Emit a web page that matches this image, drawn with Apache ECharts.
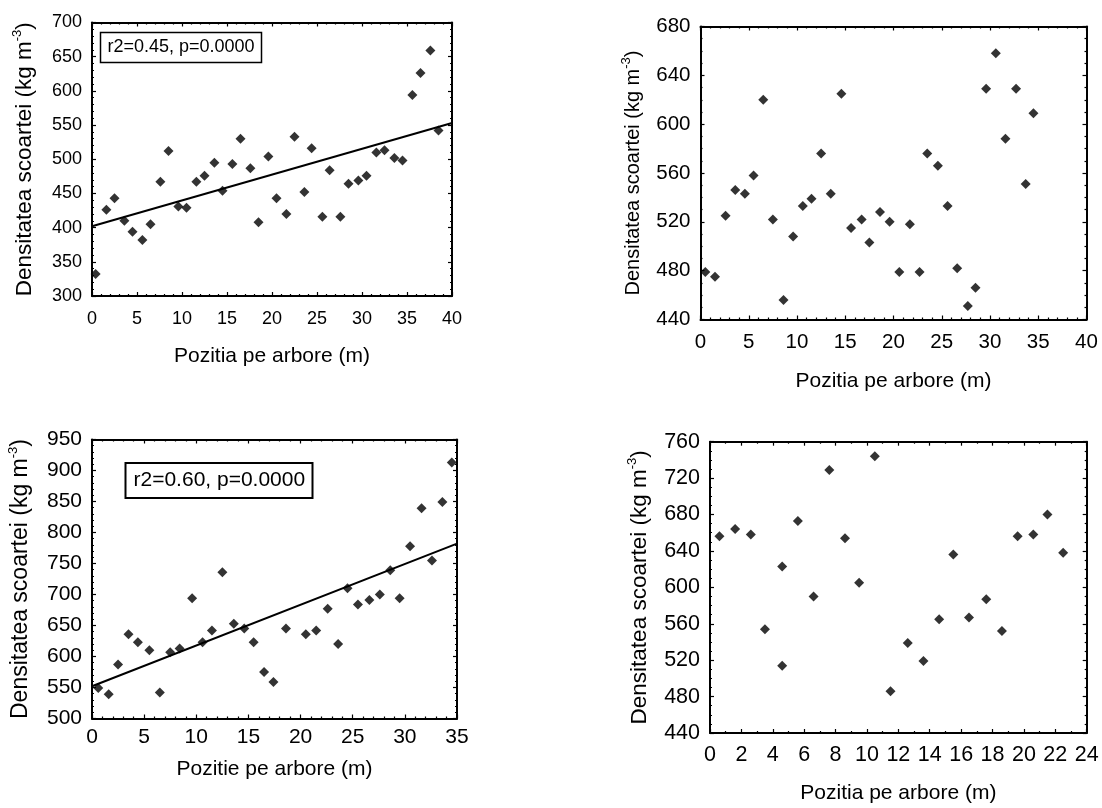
<!DOCTYPE html>
<html>
<head>
<meta charset="utf-8">
<script src="https://cdn.jsdelivr.net/npm/echarts@6/dist/echarts.min.js"></script>
<style>
html,body{margin:0;padding:0;background:#fff;}
#main{width:1102px;height:808px;}
</style>
</head>
<body>
<div id="main"></div>
<script>
// ---- Data ----
const p1X = [0.4,1.6,2.5,3.6,4.5,5.6,6.5,7.6,8.5,9.6,10.5,11.6,12.5,13.6,14.5,15.6,16.5,17.6,18.5,19.6,20.5,21.6,22.5,23.6,24.4,25.6,26.4,27.6,28.5,29.6,30.5,31.6,32.5,33.6,34.5,35.6,36.5,37.6,38.5];
const p1Y = [332,426,443,410,394,382,405,467,512,431,429,467,476,495,454,493,530,487,408,504,443,420,533,452,516,416,484,416,464,469,476,510,513,502,498,594,626,659,542];
const p1FitX = [0, 40];
const p1FitY = [402, 553];
const p1Stat = 'r2=0.45, p=0.0000';

const p2X = [0.5,1.5,2.6,3.6,4.6,5.5,6.5,7.5,8.6,9.6,10.6,11.5,12.5,13.5,14.6,15.6,16.7,17.5,18.6,19.6,20.6,21.7,22.7,23.5,24.6,25.6,26.6,27.7,28.5,29.6,30.6,31.6,32.7,33.7,34.5];
const p2Y = [479,475,525,546,543,558,620,522,456,508,533,539,576,543,625,515,522,503,528,520,479,518,479,576,566,533,482,451,466,629,658,588,629,551,609];

const p3X = [0.6,1.6,2.5,3.5,4.4,5.5,6.5,7.5,8.4,9.6,10.6,11.5,12.5,13.6,14.6,15.5,16.5,17.4,18.6,20.5,21.5,22.6,23.6,24.5,25.5,26.6,27.6,28.6,29.5,30.5,31.6,32.6,33.6,34.5];
const p3Y = [549,539,587,636,623,610,542,607,613,694,623,642,736,653,645,623,575,559,645,636,642,677,620,710,684,691,700,739,694,778,839,755,849,913];
const p3FitX = [0, 35];
const p3FitY = [552, 782];
const p3Stat = 'r2=0.60, p=0.0000';

const p4X = [0.6,1.6,2.6,3.5,4.6,4.6,5.6,6.6,7.6,8.6,9.5,10.5,11.5,12.6,13.6,14.6,15.5,16.5,17.6,18.6,19.6,20.6,21.5,22.5];
const p4Y = [656,664,658,554,623,514,673,590,729,654,605,744,486,539,519,565,636,567,587,552,656,658,680,638];

const yTitle = 'Densitatea scoartei (kg m{sup|-3})';
const xTitleA = 'Pozitia pe arbore (m)';
const xTitleB = 'Pozitie pe arbore (m)';

// ---- Layout / styling ----
const FONT = 'Liberation Sans, Arial, sans-serif';
const zip = (xs, ys) => xs.map((x, i) => [x, ys[i]]);

const panels = [
  {grid:{left:92, top:22.5, width:360, height:273.5},
   x:{min:0,max:40,interval:5,minor:5}, y:{min:300,max:700,interval:50,minor:5},
   tick:18, xTitle:xTitleA, xGap:50, yGap:53, xMargin:14, yMargin:10, titleSize:21, yTitleSize:22.5,
   pts:zip(p1X,p1Y), fit:zip(p1FitX,p1FitY)},
  {grid:{left:700.5, top:26.5, width:386, height:293},
   x:{min:0,max:40,interval:5,minor:5}, y:{min:440,max:680,interval:40,minor:4},
   tick:20.5, xTitle:xTitleA, xGap:51, yGap:53, xMargin:12, yMargin:10, titleSize:21, yTitleSize:20,
   pts:zip(p2X,p2Y), fit:null},
  {grid:{left:92, top:439.5, width:365, height:279},
   x:{min:0,max:35,interval:5,minor:5}, y:{min:500,max:950,interval:50,minor:5},
   tick:21, xTitle:xTitleB, xGap:40, yGap:57, xMargin:8, yMargin:10, titleSize:21, yTitleSize:23,
   pts:zip(p3X,p3Y), fit:zip(p3FitX,p3FitY)},
  {grid:{left:710, top:441.7, width:376.7, height:291.3},
   x:{min:0,max:24,interval:2,minor:2}, y:{min:440,max:760,interval:40,minor:4},
   tick:21.5, xTitle:xTitleA, xGap:50, yGap:56, xMargin:11, yMargin:10, titleSize:21, yTitleSize:22.5,
   pts:zip(p4X,p4Y), fit:null}
];

const lineStyle = {color:'#000', width:2};
function mkAxis(kind, pos, gi, ax, p, primary){
  const a = {
    type:'value', gridIndex:gi, position:pos,
    min:ax.min, max:ax.max, interval:ax.interval,
    axisLine:{show:true, onZero:false, lineStyle:lineStyle},
    axisTick:{show:true, inside:true, length:4, lineStyle:{color:'#000', width:1.2}},
    minorTick:{show:true, splitNumber:ax.minor, length:2, lineStyle:{color:'#000', width:1.2}},
    splitLine:{show:false}, minorSplitLine:{show:false},
    axisLabel:{show:primary, color:'#000', fontSize:p.tick, fontFamily:FONT,
               margin: kind==='x' ? p.xMargin : p.yMargin}
  };
  if (primary){
    if (kind==='x'){
      a.name = p.xTitle; a.nameLocation='middle'; a.nameGap=p.xGap;
      a.nameTextStyle={color:'#000', fontSize:p.titleSize, fontFamily:FONT, verticalAlign:'top'};
    } else {
      a.name = yTitle; a.nameLocation='middle'; a.nameGap=p.yGap; a.nameRotate=90;
      a.nameTextStyle={color:'#000', fontSize:p.yTitleSize, fontFamily:FONT, lineHeight:28,
        rich:{sup:{fontSize:13, fontFamily:FONT, color:'#000', verticalAlign:'top', lineHeight:14}}};
    }
  }
  return a;
}

const grids=[], xAxes=[], yAxes=[], series=[];
panels.forEach((p, i) => {
  grids.push(Object.assign({show:false, containLabel:false}, p.grid));
  xAxes.push(mkAxis('x','bottom',i,p.x,p,true));
  xAxes.push(mkAxis('x','top',i,p.x,p,false));
  yAxes.push(mkAxis('y','left',i,p.y,p,true));
  yAxes.push(mkAxis('y','right',i,p.y,p,false));
  series.push({type:'scatter', xAxisIndex:2*i, yAxisIndex:2*i, data:p.pts,
    symbol:'diamond', symbolSize:[10,10], itemStyle:{color:'#000'}, silent:true, z:3});
  if (p.fit){
    series.push({type:'line', xAxisIndex:2*i, yAxisIndex:2*i, data:p.fit,
      showSymbol:false, symbol:'none', lineStyle:{color:'#000', width:2}, silent:true, z:2});
  }
});

const titles = [
  {text:p1Stat, left:100.5, top:32.5, padding:[6,7,6,7], borderColor:'#000', borderWidth:1.5,
   textStyle:{fontSize:18, fontWeight:'normal', color:'#000', fontFamily:FONT}},
  {text:p3Stat, left:125.5, top:463, padding:[7,8,7,8], borderColor:'#000', borderWidth:2,
   textStyle:{fontSize:21, fontWeight:'normal', color:'#000', fontFamily:FONT}}
];

const chart = echarts.init(document.getElementById('main'), null, {renderer:'canvas'});
chart.setOption({
  backgroundColor:'#fff',
  animation:false,
  title:titles,
  grid:grids, xAxis:xAxes, yAxis:yAxes, series:series
});
</script>
</body>
</html>
